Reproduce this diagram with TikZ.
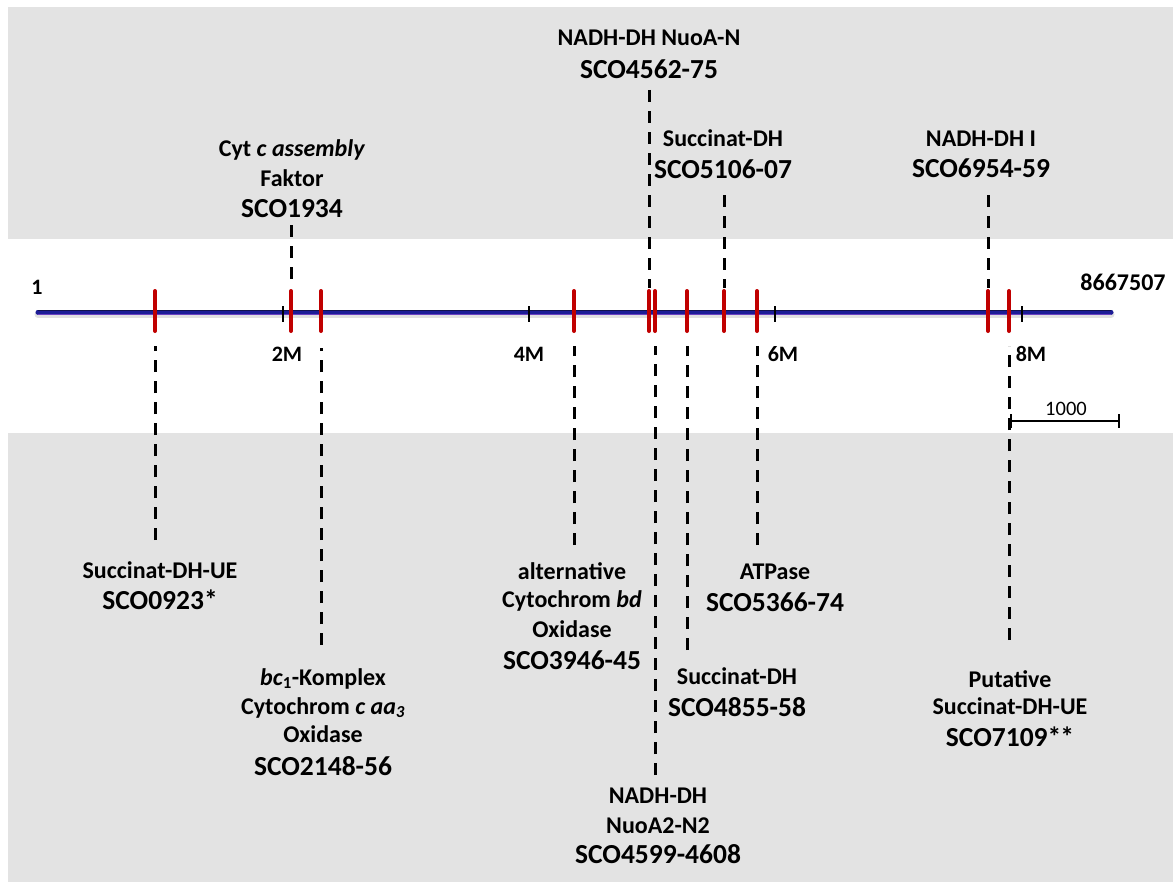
\documentclass[tikz,border=0pt]{standalone}
\usepackage{fontspec}
\setmainfont{Carlito}
\definecolor{bandgrey}{RGB}{227,227,227}
\definecolor{markred}{RGB}{192,0,0}
\definecolor{chromblue}{RGB}{28,28,150}
\definecolor{chromdark}{RGB}{15,15,60}
\definecolor{chromend}{RGB}{140,80,210}
\begin{document}
\begin{tikzpicture}[x=1pt,y=-1pt,
  sm/.style={font=\fontsize{24}{28}\selectfont\bfseries, anchor=base, inner sep=0pt},
  lg/.style={font=\fontsize{27.5}{32}\selectfont\bfseries, anchor=base, inner sep=0pt},
  axislbl/.style={font=\fontsize{22}{26}\selectfont\bfseries, anchor=base, inner sep=0pt},
  redmark/.style={draw=markred, line width=4pt, line cap=round},
  tickmark/.style={draw=black, line width=1.6pt},
  dashline/.style={draw=black, line width=3pt, dash pattern=on 12pt off 9pt}]
\useasboundingbox (0,0) rectangle (1173,883);
\fill[bandgrey] (8,7) rectangle (1173,239);
\fill[bandgrey] (8,433) rectangle (1173,882);

% chromosome
\coordinate (cL) at (38,312);
\coordinate (cR) at (1111,312);
\draw[line width=7pt, line cap=round, black!20, opacity=0.6] ([yshift=-2.5]cL) -- ([yshift=-2.5]cR);
\draw[line width=5pt, line cap=round, chromblue] (cL) -- (cR);
\draw[line width=1.2pt, chromdark, opacity=0.8] ([yshift=1.8]cL) -- ([yshift=1.8]cR);
\draw[line width=1pt, chromend, opacity=0.7] ([yshift=-2]cL) -- ([yshift=-2]cR);

% ticks
\foreach \n/\x in {t2/283, t4/529, t6/775, t8/1022}{
  \coordinate (\n) at (\x,312);
  \draw[tickmark] (\x,306) -- (\x,322);
}
\node[axislbl] (one) at (37,294) {1};
\node[font=\fontsize{24}{28}\selectfont\bfseries, anchor=base, inner sep=0pt] (end) at (1123,290) {8667507};
\node[axislbl] (l2) at (287,361) {2M};
\node[axislbl] (l4) at (529,361) {4M};
\node[axislbl] (l6) at (783,361) {6M};
\node[axislbl] (l8) at (1031,361) {8M};

% mark positions
\foreach \n/\x in {m1/155, m2/291, m3/321, m4/574, m5/649, m6/655, m7/687, m8/724, m9/757, m10/988, m11/1009}{
  \coordinate (\n) at (\x,311);
}

% dashed connectors
\coordinate (d1) at (155,540);
\coordinate (d2) at (291,225);
\coordinate (d3) at (321,645);
\coordinate (d4) at (574,545);
\coordinate (d5) at (649,90);
\coordinate (d6) at (655,775);
\coordinate (d7) at (687,650);
\coordinate (d8) at (724,195);
\coordinate (d9) at (757,545);
\coordinate (d10) at (988,195);
\coordinate (d11) at (1009,640);
\draw[dashline] (d1) -- ([yshift=-35]m1);
\draw[dashline] (d2) -- ([yshift=23]m2);
\draw[dashline] (d3) -- ([yshift=-37]m3);
\draw[dashline] (d4) -- ([yshift=-35]m4);
\draw[dashline] (d5) -- ([yshift=23]m5);
\draw[dashline] (d6) -- ([yshift=-35]m6);
\draw[dashline] (d7) -- ([yshift=-35]m7);
\draw[dashline] (d8) -- ([yshift=23]m8);
\draw[dashline] (d9) -- ([yshift=-35]m9);
\draw[dashline] (d10) -- ([yshift=23]m10);
\draw[dashline] (d11) -- ([yshift=-35]m11);

% red marks
\foreach \n in {m1,m2,m3,m4,m5,m6,m7,m8,m9,m10,m11}{
  \draw[redmark] ([yshift=20]\n) -- ([yshift=-20]\n);
}

% scale bar
\coordinate (s1) at (1011,421);
\coordinate (s2) at (1119,421);
\draw[line width=1.6pt] (s1) -- (s2);
\draw[line width=1.6pt] ([yshift=7]s1) -- ([yshift=-7]s1);
\draw[line width=1.6pt] ([yshift=7]s2) -- ([yshift=-7]s2);
\node[font=\fontsize{20.5}{24}\selectfont, anchor=base, inner sep=0pt] (sc) at (1066,415) {1000};

% upper labels
\node[sm] (a1) at (292,156) {Cyt \textit{c assembly}};
\node[sm] (a2) at (292,186) {Faktor};
\node[lg] (a3) at (292,217) {SCO1934};

\node[sm] (b1) at (649,46) {NADH-DH NuoA-N};
\node[lg] (b2) at (649,79) {SCO4562-75};

\node[sm] (c1) at (723,146) {Succinat-DH};
\node[lg] (c2) at (723,178) {SCO5106-07};

\node[sm] (e1) at (981,146) {NADH-DH I};
\node[lg] (e2) at (981,177) {SCO6954-59};

% lower labels
\node[sm] (f1) at (160,578) {Succinat-DH-UE};
\node[lg] (f2) at (160,609) {SCO0923*};

\node[sm] (g1) at (323,685) {\textit{bc}\textsubscript{1}-Komplex};
\node[sm] (g2) at (323,714) {Cytochrom \textit{c aa\textsubscript{3}}};
\node[sm] (g3) at (323,742) {Oxidase};
\node[lg] (g4) at (323,775) {SCO2148-56};

\node[sm] (h1) at (572,579) {alternative};
\node[sm] (h2) at (572,607) {Cytochrom \textit{bd}};
\node[sm] (h3) at (572,637) {Oxidase};
\node[lg] (h4) at (572,669) {SCO3946-45};

\node[sm] (i1) at (658,803) {NADH-DH};
\node[sm] (i2) at (658,833) {NuoA2-N2};
\node[lg] (i3) at (658,863) {SCO4599-4608};

\node[sm] (j1) at (737,684) {Succinat-DH};
\node[lg] (j2) at (737,716) {SCO4855-58};

\node[sm] (k1) at (775,579) {ATPase};
\node[lg] (k2) at (775,611) {SCO5366-74};

\node[sm] (n1) at (1010,687) {Putative};
\node[sm] (n2) at (1010,714) {Succinat-DH-UE};
\node[lg] (n3) at (1010,746) {SCO7109*\kern-1pt*};
\end{tikzpicture}
\end{document}
